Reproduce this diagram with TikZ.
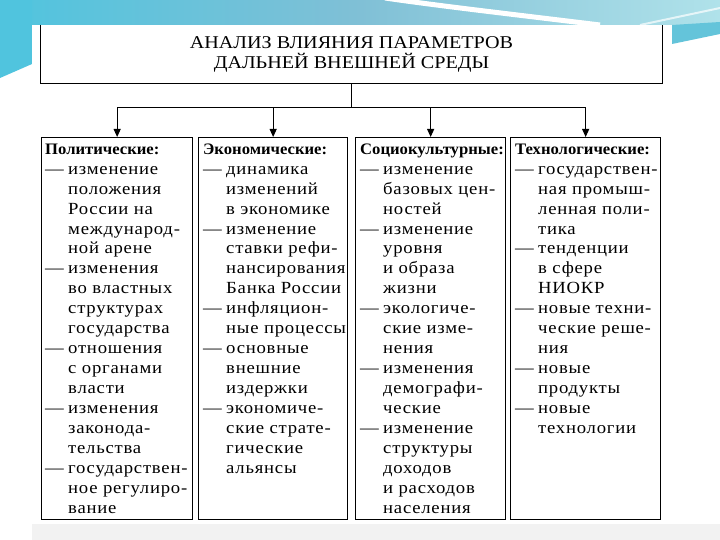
\documentclass[tikz,border=0pt]{standalone}
\usepackage{fontspec}
\setmainfont{Liberation Serif}[FakeStretch=1.1,LetterSpace=4.5]
\newfontfamily\headfont{Liberation Serif}[FakeStretch=1.04]
\newfontfamily\titlefont{Liberation Serif}[FakeStretch=1.12]
\usetikzlibrary{arrows.meta}
\definecolor{bandL}{RGB}{80,196,222}
\definecolor{bandM}{RGB}{128,192,214}
\definecolor{bandR}{RGB}{176,226,234}
\definecolor{streak}{RGB}{100,196,218}
\definecolor{floorgray}{RGB}{242,242,242}
\newcommand{\dashln}[1]{\makebox[23pt][l]{—}#1}
\newcommand{\contln}[1]{\hspace*{23pt}#1}
\newcommand{\headln}[1]{\rule{0pt}{14pt}{\headfont\bfseries\fontsize{16}{19.95}\selectfont #1}}
\tikzset{
  panel/.style={draw, line width=1.3pt, inner sep=0pt, anchor=north west, minimum height=382pt},
  txt/.style={anchor=north west, inner sep=0pt, align=left, font=\fontsize{17}{19.95}\selectfont},
  conn/.style={line width=1pt},
  arr/.style={line width=1pt, -{Triangle[length=8pt,width=7pt]}}
}
\begin{document}
\begin{tikzpicture}[x=1pt,y=-1pt]
\useasboundingbox (0,0) rectangle (720,540);
% background
\fill[white] (0,0) rectangle (720,540);
\shade[left color=bandL, right color=bandR, middle color=bandM] (0,0) rectangle (720,25);
\fill[bandL] (0,0) -- (32,0) -- (32,64) -- (0,78) -- cycle;
\fill[streak] (672,25) -- (720,22) -- (720,34) -- (672,44) -- cycle;
\draw[white, line width=5pt] (385,-2) .. controls (440,6) and (510,14) .. (600,25);
\draw[white, line width=2pt, opacity=0.7] (640,25) -- (720,8);
\fill[floorgray] (32,524) rectangle (720,540);
\fill[white] (32,25) rectangle (672,524);
% title
\node[inner sep=0pt, minimum width=621pt, minimum height=58pt] (tbox) at (351.5,54) {};
\draw[line width=1.2pt] (tbox.north west) -- (tbox.south west) -- (tbox.south east) -- (tbox.north east);
\node[align=center, inner sep=0pt, font=\titlefont\fontsize{18}{19.5}\selectfont] (title) at (351.5,54.5) {АНАЛИЗ ВЛИЯНИЯ ПАРАМЕТРОВ\\ДАЛЬНЕЙ ВНЕШНЕЙ СРЕДЫ};
% panels
\node[panel, minimum width=151pt] (b1) at (41,137) {};
\node[panel, minimum width=149pt] (b2) at (198,137) {};
\node[panel, minimum width=150pt] (b3) at (355,137) {};
\node[panel, minimum width=150pt] (b4) at (510,137) {};
% connectors
\coordinate (j) at (351.5,108);
\draw[conn] (tbox.south) -- (j);
\draw[conn] (j -| b1.north) -- (j -| b4.north);
\foreach \b in {b1,b2,b3,b4} \draw[arr] (j -| \b.north) -- (\b.north);
% texts
\node[txt] (t1) at ([shift={(4,3)}]b1.north west) {\headln{Политические:}\\
\dashln{изменение}\\ \contln{положения}\\ \contln{России на}\\ \contln{международ-}\\ \contln{ной арене}\\
\dashln{изменения}\\ \contln{во властных}\\ \contln{структурах}\\ \contln{государства}\\
\dashln{отношения}\\ \contln{с органами}\\ \contln{власти}\\
\dashln{изменения}\\ \contln{законода-}\\ \contln{тельства}\\
\dashln{государствен-}\\ \contln{ное регулиро-}\\ \contln{вание}};
\node[txt] (t2) at ([shift={(5,3)}]b2.north west) {\headln{Экономические:}\\
\dashln{динамика}\\ \contln{изменений}\\ \contln{в экономике}\\
\dashln{изменение}\\ \contln{ставки рефи-}\\ \contln{нансирования}\\ \contln{Банка России}\\
\dashln{инфляцион-}\\ \contln{ные процессы}\\
\dashln{основные}\\ \contln{внешние}\\ \contln{издержки}\\
\dashln{экономиче-}\\ \contln{ские страте-}\\ \contln{гические}\\ \contln{альянсы}};
\node[txt] (t3) at ([shift={(5,3)}]b3.north west) {\headln{Социокультурные:}\\
\dashln{изменение}\\ \contln{базовых цен-}\\ \contln{ностей}\\
\dashln{изменение}\\ \contln{уровня}\\ \contln{и образа}\\ \contln{жизни}\\
\dashln{экологиче-}\\ \contln{ские изме-}\\ \contln{нения}\\
\dashln{изменения}\\ \contln{демографи-}\\ \contln{ческие}\\
\dashln{изменение}\\ \contln{структуры}\\ \contln{доходов}\\ \contln{и расходов}\\ \contln{населения}};
\node[txt] (t4) at ([shift={(5,3)}]b4.north west) {\headln{Технологические:}\\
\dashln{государствен-}\\ \contln{ная промыш-}\\ \contln{ленная поли-}\\ \contln{тика}\\
\dashln{тенденции}\\ \contln{в сфере}\\ \contln{НИОКР}\\
\dashln{новые техни-}\\ \contln{ческие реше-}\\ \contln{ния}\\
\dashln{новые}\\ \contln{продукты}\\
\dashln{новые}\\ \contln{технологии}};
\end{tikzpicture}
\end{document}
